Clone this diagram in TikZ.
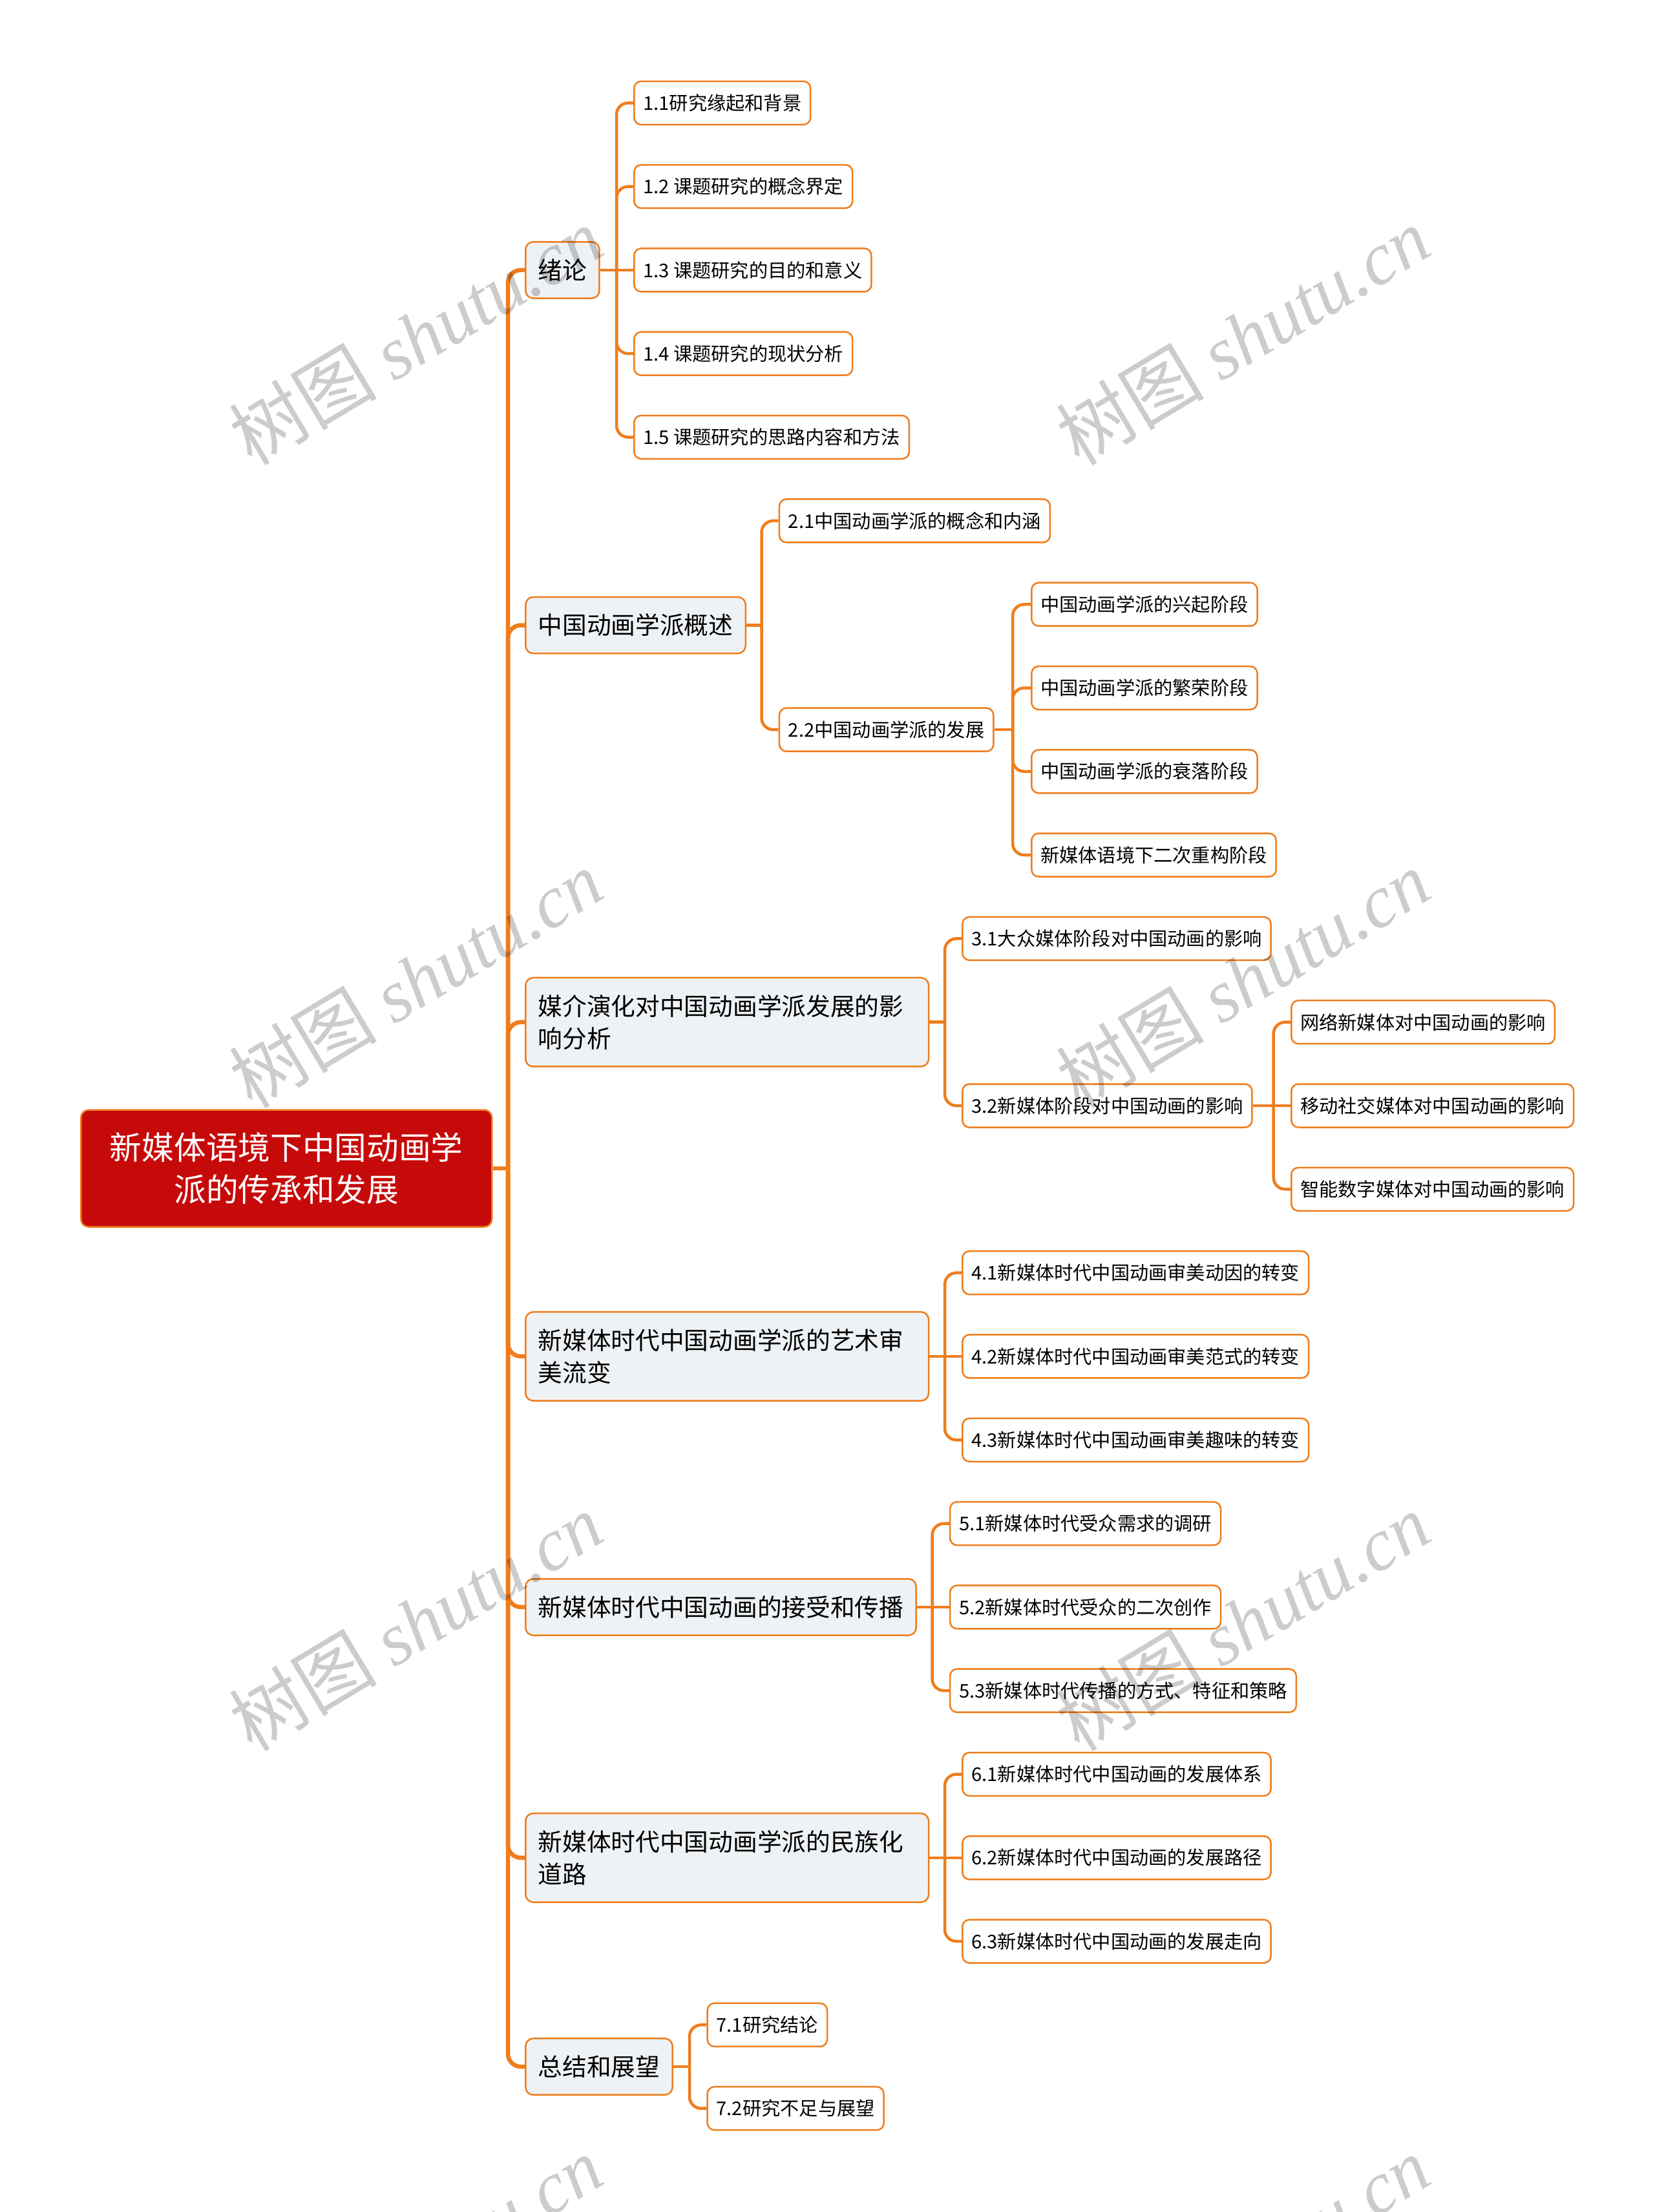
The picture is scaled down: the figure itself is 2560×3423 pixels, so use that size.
\documentclass[tikz,border=0pt]{standalone}
\usepackage{fontspec}
\setmainfont{Noto Sans CJK SC}
\newfontfamily\wmserif{Liberation Serif}
\definecolor{orng}{HTML}{EF7D1C}
\definecolor{rootred}{HTML}{C60A0A}
\definecolor{lonefill}{HTML}{EFF2F5}
\begin{document}
\begin{tikzpicture}[x=0.1mm,y=-0.1mm,
  rootbox/.style={draw=orng, line width=0.25mm, fill=rootred, text=white, rounded corners=1.2mm, minimum width=63.6mm, minimum height=18.1mm, text width=56mm, align=center, inner sep=0pt, font=\fontsize{14.14pt}{18.5pt}\selectfont},
  lone/.style={draw=orng, line width=0.25mm, fill=lonefill, rounded corners=1.2mm, minimum height=8.73mm, inner xsep=1.94mm, inner ysep=0pt, anchor=west, font=\fontsize{10.73pt}{14.2pt}\selectfont},
  ltwo/.style={lone, minimum height=13.75mm, text width=58.5mm, align=left},
  leaf/.style={draw=orng, line width=0.25mm, fill=white, rounded corners=1.1mm, minimum height=6.7mm, inner xsep=1.4mm, inner ysep=0pt, anchor=west, font=\fontsize{8.31pt}{10pt}\selectfont},
  trunk/.style={draw=orng, line width=0.65mm, rounded corners=2mm},
  branch/.style={draw=orng, line width=0.45mm, rounded corners=1.8mm},
  wm/.style={text=black, opacity=0.2, rotate=31, inner sep=0pt, font=\fontsize{32.7pt}{34pt}\selectfont}
]
\fill[white] (0,0) rectangle (2560,3423);
\useasboundingbox (0,0) rectangle (2560,3423);

% root and level one
\node[rootbox, anchor=west] (root) at (124,1808) {新媒体语境下中国动画学\\派的传承和发展};
\node[lone] (c1) at (812,417.9) {绪论};
\node[lone] (c2) at (812,967.5) {中国动画学派概述};
\node[ltwo] (c3) at (812,1581.7) {媒介演化对中国动画学派发展的影\\响分析};
\node[ltwo] (c4) at (812,2098.9) {新媒体时代中国动画学派的艺术审\\美流变};
\node[lone] (c5) at (812,2486.9) {新媒体时代中国动画的接受和传播};
\node[ltwo] (c6) at (812,2874.8) {新媒体时代中国动画学派的民族化\\道路};
\node[lone] (c7) at (812,3198.05) {总结和展望};

% leaves
\node[leaf] (a11) at (980,159.3) {1.1研究缘起和背景};
\node[leaf] (a12) at (980,288.6) {1.2 课题研究的概念界定};
\node[leaf] (a13) at (980,417.9) {1.3 课题研究的目的和意义};
\node[leaf] (a14) at (980,547.2) {1.4 课题研究的现状分析};
\node[leaf] (a15) at (980,676.5) {1.5 课题研究的思路内容和方法};
\node[leaf] (a21) at (1204.7,805.9) {2.1中国动画学派的概念和内涵};
\node[leaf] (a22) at (1204.7,1129.15) {2.2中国动画学派的发展};
\node[leaf] (a221) at (1595,935.2) {中国动画学派的兴起阶段};
\node[leaf] (a222) at (1595,1064.5) {中国动画学派的繁荣阶段};
\node[leaf] (a223) at (1595,1193.8) {中国动画学派的衰落阶段};
\node[leaf] (a224) at (1595,1323.1) {新媒体语境下二次重构阶段};
\node[leaf] (a31) at (1488,1452.4) {3.1大众媒体阶段对中国动画的影响};
\node[leaf] (a32) at (1488,1711.0) {3.2新媒体阶段对中国动画的影响};
\node[leaf] (a321) at (1997,1581.7) {网络新媒体对中国动画的影响};
\node[leaf] (a322) at (1997,1711.0) {移动社交媒体对中国动画的影响};
\node[leaf] (a323) at (1997,1840.3) {智能数字媒体对中国动画的影响};
\node[leaf] (a41) at (1488,1969.6) {4.1新媒体时代中国动画审美动因的转变};
\node[leaf] (a42) at (1488,2098.9) {4.2新媒体时代中国动画审美范式的转变};
\node[leaf] (a43) at (1488,2228.3) {4.3新媒体时代中国动画审美趣味的转变};
\node[leaf] (a51) at (1468.8,2357.6) {5.1新媒体时代受众需求的调研};
\node[leaf] (a52) at (1468.8,2486.9) {5.2新媒体时代受众的二次创作};
\node[leaf] (a53) at (1468.8,2616.2) {5.3新媒体时代传播的方式、特征和策略};
\node[leaf] (a61) at (1488,2745.5) {6.1新媒体时代中国动画的发展体系};
\node[leaf] (a62) at (1488,2874.8) {6.2新媒体时代中国动画的发展路径};
\node[leaf] (a63) at (1488,3004.1) {6.3新媒体时代中国动画的发展走向};
\node[leaf] (a71) at (1093.4,3133.4) {7.1研究结论};
\node[leaf] (a72) at (1093.4,3262.7) {7.2研究不足与展望};

% bracket columns
\coordinate (tk) at (786,0);
\coordinate (b1) at (954,0);
\coordinate (b2) at (1178.5,0);
\coordinate (b22) at (1567,0);
\coordinate (b3) at (1462,0);
\coordinate (b32) at (1970.7,0);
\coordinate (b4) at (1462,0);
\coordinate (b5) at (1442.6,0);
\coordinate (b6) at (1462,0);
\coordinate (b7) at (1067,0);

% trunk
\draw[trunk] (root.east) -- (root.east -| tk);
\foreach \c in {c1,c2,c3,c4,c5,c6,c7}
  \draw[trunk] (root.east -| tk) -- (tk |- \c.west) -- (\c.west);

% group 1
\draw[branch] (c1.east) -- (a13.west);
\foreach \c in {a11,a12,a14,a15}
  \draw[branch] (c1.east -| b1) -- (b1 |- \c.west) -- (\c.west);
% group 2
\draw[branch] (c2.east) -- (c2.east -| b2);
\foreach \c in {a21,a22}
  \draw[branch] (c2.east -| b2) -- (b2 |- \c.west) -- (\c.west);
\draw[branch] (a22.east) -- (a22.east -| b22);
\foreach \c in {a221,a222,a223,a224}
  \draw[branch] (a22.east -| b22) -- (b22 |- \c.west) -- (\c.west);
% group 3
\draw[branch] (c3.east) -- (c3.east -| b3);
\foreach \c in {a31,a32}
  \draw[branch] (c3.east -| b3) -- (b3 |- \c.west) -- (\c.west);
\draw[branch] (a32.east) -- (a322.west);
\foreach \c in {a321,a323}
  \draw[branch] (a32.east -| b32) -- (b32 |- \c.west) -- (\c.west);
% group 4
\draw[branch] (c4.east) -- (a42.west);
\foreach \c in {a41,a43}
  \draw[branch] (c4.east -| b4) -- (b4 |- \c.west) -- (\c.west);
% group 5
\draw[branch] (c5.east) -- (a52.west);
\foreach \c in {a51,a53}
  \draw[branch] (c5.east -| b5) -- (b5 |- \c.west) -- (\c.west);
% group 6
\draw[branch] (c6.east) -- (a62.west);
\foreach \c in {a61,a63}
  \draw[branch] (c6.east -| b6) -- (b6 |- \c.west) -- (\c.west);
% group 7
\draw[branch] (c7.east) -- (c7.east -| b7);
\foreach \c in {a71,a72}
  \draw[branch] (c7.east -| b7) -- (b7 |- \c.west) -- (\c.west);

% watermarks
\begin{scope}
\clip (0,0) rectangle (2560,3423);
\foreach \wx/\wn in {643/l,1923/r}
  \foreach \wy/\wm in {520/a,1515/b,2510/c,3505/d}
    \node[wm] (wm\wn\wm) at (\wx,\wy) {树图 {\wmserif\itshape shutu.cn}};
\end{scope}
\end{tikzpicture}
\end{document}
